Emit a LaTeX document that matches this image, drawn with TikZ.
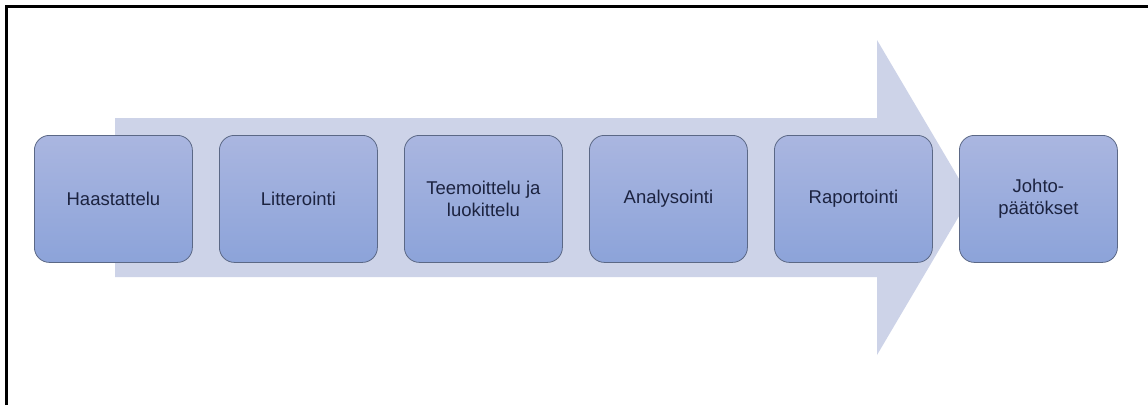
\documentclass[tikz,border=0pt]{standalone}
\usepackage{fontspec}
\setmainfont{Liberation Sans}
\definecolor{arrowfill}{HTML}{CDD3E8}
\definecolor{boxtop}{HTML}{AAB6E0}
\definecolor{boxbot}{HTML}{8CA3D9}
\definecolor{boxline}{HTML}{5B6886}
\definecolor{txt}{HTML}{1C2340}
\begin{document}
\begin{tikzpicture}[x=1pt,y=-1pt,
  stepbox/.style={draw=boxline, line width=0.8pt, rounded corners=15pt,
    top color=boxtop, bottom color=boxbot, minimum width=158pt, minimum height=127pt,
    inner sep=0pt, align=center, text=txt, font=\fontsize{18.5}{22}\selectfont, anchor=north west}]
\useasboundingbox (0,0) rectangle (1148,405);
\fill[white] (0,0) rectangle (1148,405);
% frame (top and left only)
\draw[line width=3pt] (6,405) -- (6,6) -- (1148,6);
% big arrow
\fill[arrowfill] (115,118) -- (877,118) -- (877,40) -- (970,197.5) -- (877,355) -- (877,277) -- (115,277) -- cycle;
% steps
\node[stepbox] (s1) at (34,135) {Haastattelu};
\node[stepbox] (s2) at (219,135) {Litterointi};
\node[stepbox] (s3) at (404,135) {Teemoittelu ja\\luokittelu};
\node[stepbox] (s4) at (589,135) {Analysointi};
\node[stepbox] (s5) at (774,135) {Raportointi};
\node[stepbox] (s6) at (959,135) {Johto-\\päätökset};
\end{tikzpicture}
\end{document}
